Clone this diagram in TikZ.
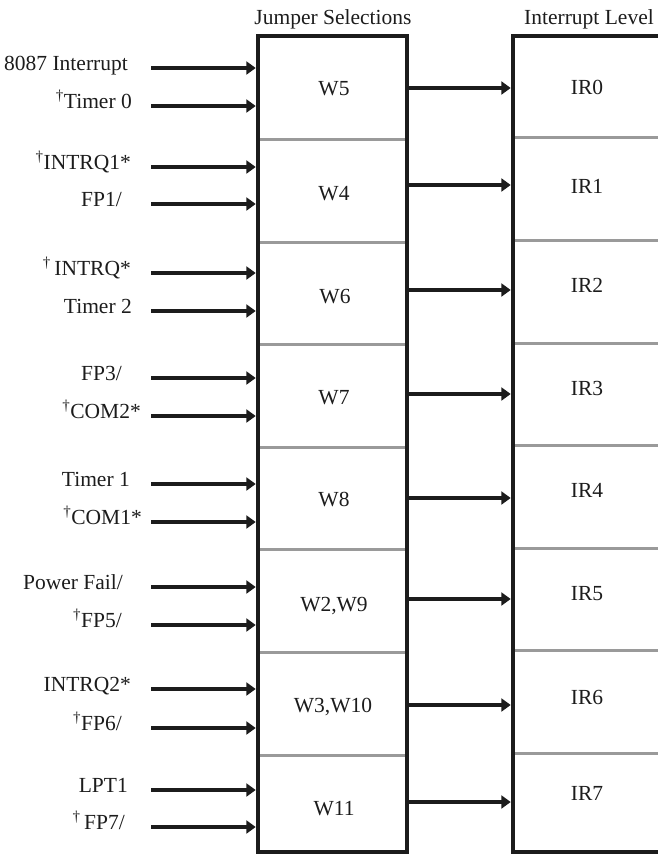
\documentclass[tikz,border=0pt]{standalone}
\usepackage{fontspec}
\setmainfont{Liberation Serif}
\usetikzlibrary{arrows.meta}
\definecolor{ink}{HTML}{1C1C1C}
\definecolor{sepgray}{HTML}{9A9A9A}
\begin{document}
\begin{tikzpicture}[x=1pt,y=-1pt,
  txt/.style={inner sep=0pt, font=\fontsize{21.5}{24}\selectfont, text=ink},
  inlbl/.style={txt, anchor=base east},
  celltxt/.style={txt, anchor=base},
  colbox/.style={draw=ink, line width=3.5pt, minimum width=149pt, minimum height=816pt, inner sep=0pt},
  sepline/.style={draw=sepgray, line width=3pt},
  arr/.style={draw=ink, line width=3.7pt, -{Triangle[length=9.5pt,width=13pt]}}
]
\useasboundingbox (0,0) rectangle (658,854);

% titles
\node[celltxt] (t1) at (333,24) {Jumper Selections};
\node[celltxt] (t2) at (589,24) {Interrupt Level};

% separators
\foreach \yy in {139,242,344,447,549,652,755}
  \draw[sepline] (258,\yy) -- (407,\yy);
\foreach \yy in {137,240,343,445,548,650,753}
  \draw[sepline] (513,\yy) -- (662,\yy);

% column boxes
\node[colbox] (lbox) at (332.5,444) {};
\node[colbox] (rbox) at (587.5,444) {};

% cell texts
\node[celltxt] (w0) at (334,95) {W5};
\node[celltxt] (w1) at (334,200) {W4};
\node[celltxt] (w2) at (335,303) {W6};
\node[celltxt] (w3) at (334,404) {W7};
\node[celltxt] (w4) at (334,506) {W8};
\node[celltxt] (w5) at (334,611) {W2,W9};
\node[celltxt] (w6) at (333,712) {W3,W10};
\node[celltxt] (w7) at (334,815) {W11};

\node[celltxt] (r0) at (587,94) {IR0};
\node[celltxt] (r1) at (587,193) {IR1};
\node[celltxt] (r2) at (587,292) {IR2};
\node[celltxt] (r3) at (587,395) {IR3};
\node[celltxt] (r4) at (587,497) {IR4};
\node[celltxt] (r5) at (587,600) {IR5};
\node[celltxt] (r6) at (587,704) {IR6};
\node[celltxt] (r7) at (587,800) {IR7};

% output arrows
\foreach \ay/\nm in {88/o0,185/o1,290/o2,394/o3,498/o4,599/o5,705/o6,802/o7}{
  \coordinate (\nm) at (0,\ay);
  \draw[arr] (lbox.east |- \nm) -- ([xshift=-0.5pt]rbox.west |- \nm);
}

% input labels
\node[inlbl] (i0)  at (128,70)  {8087 Interrupt};
\node[inlbl] (i1)  at (132,108) {\textsuperscript{†}Timer 0};
\node[inlbl] (i2)  at (131,169) {\textsuperscript{†}INTRQ1*};
\node[inlbl] (i3)  at (122,206) {FP1/};
\node[inlbl] (i4)  at (131,275) {\textsuperscript{†}\,INTRQ*};
\node[inlbl] (i5)  at (132,313) {Timer 2};
\node[inlbl] (i6)  at (122,380) {FP3/};
\node[inlbl] (i7)  at (141,418) {\textsuperscript{†}COM2*};
\node[inlbl] (i8)  at (130,486) {Timer 1};
\node[inlbl] (i9)  at (142,524) {\textsuperscript{†}COM1*};
\node[inlbl] (i10) at (123,589) {Power Fail/};
\node[inlbl] (i11) at (122,627) {\textsuperscript{†}FP5/};
\node[inlbl] (i12) at (131,691) {INTRQ2*};
\node[inlbl] (i13) at (122,730) {\textsuperscript{†}FP6/};
\node[inlbl] (i14) at (128,792) {LPT1};
\node[inlbl] (i15) at (125,829) {\textsuperscript{†}\,FP7/};

% input arrows
\foreach \ay/\nm in {68/s0,106/s1,167/s2,204/s3,273/s4,311/s5,378/s6,416/s7,484/s8,522/s9,587/s10,625/s11,689/s12,728/s13,790/s14,827/s15}{
  \coordinate (\nm) at (151,\ay);
  \draw[arr] (\nm) -- ([xshift=-0.5pt]lbox.west |- \nm);
}
\end{tikzpicture}
\end{document}
